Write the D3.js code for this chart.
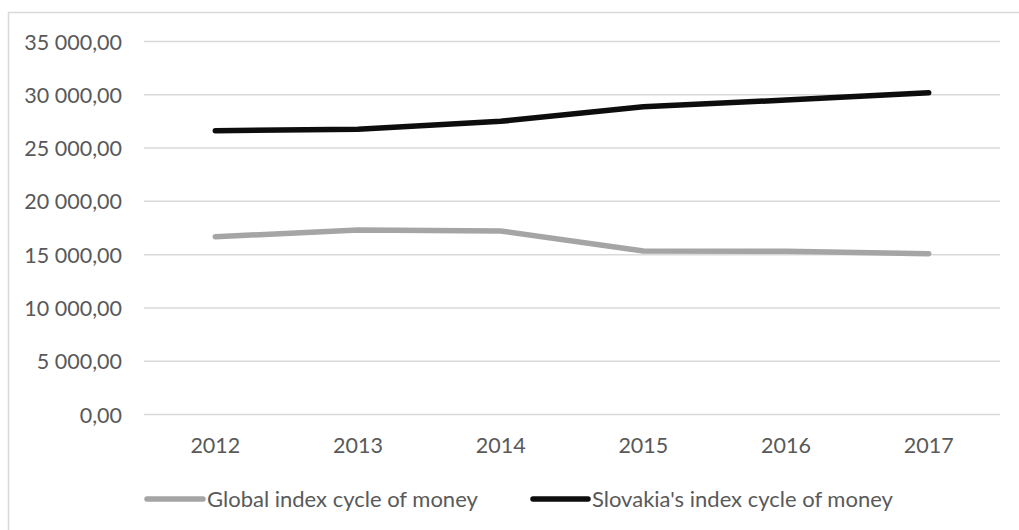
<!DOCTYPE html>
<html><head><meta charset="utf-8">
<script src="https://cdn.jsdelivr.net/npm/d3@7"></script>
<style>body{margin:0;background:#fff}svg{display:block}</style>
</head><body>
<svg id="c" width="1019" height="530"></svg>
<script>
const categories = ["2012","2013","2014","2015","2016","2017"];
const globalIndex = [16680, 17310, 17220, 15340, 15310, 15090];
const slovakiaIndex = [26630, 26760, 27510, 28880, 29510, 30200];
const yTicks = [0, 5000, 10000, 15000, 20000, 25000, 30000, 35000];
const seriesNames = ["Global index cycle of money", "Slovakia's index cycle of money"];
const seriesColors = ["#a5a5a5", "#0d0d0d"];

const FONT = "Lato, 'Open Sans', sans-serif";
const svg = d3.select("#c");
svg.append("rect").attr("x",8.5).attr("y",12.5).attr("width",1030).attr("height",540)
  .attr("fill","none").attr("stroke","#d9d9d9").attr("stroke-width",1.5);

const x = d3.scaleBand().domain(categories).range([144,1000]);
const y = d3.scaleLinear().domain([0,35000]).range([414.5,41.5]);

const fmt = v => d3.format(",.2f")(v).replace(/,/g," ").replace(".",",");

function squeeze(sel, target){
  sel.each(function(){
    const w = this.getComputedTextLength();
    const s = Math.min(1, target / w);
    d3.select(this).attr("transform", `scale(${s},1)`);
  });
}

// gridlines
svg.append("g").selectAll("line").data(yTicks).join("line")
  .attr("x1",144).attr("x2",1000)
  .attr("y1",d=>y(d)).attr("y2",d=>y(d))
  .attr("stroke","#d9d9d9").attr("stroke-width",1.5);

// y axis labels
const yAxis = d3.axisLeft(y).tickValues(yTicks).tickFormat(fmt).tickSize(0).tickPadding(0);
const gy = svg.append("g").attr("transform","translate(122,0)").call(yAxis);
gy.select(".domain").remove();
gy.selectAll("text").attr("font-family",FONT).attr("font-size","21.5px").attr("fill","#595959")
  .attr("dy","0.35em");

// x axis labels
const xAxis = d3.axisBottom(x).tickSize(0).tickPadding(0);
const gx = svg.append("g").attr("transform","translate(0,445.5)").call(xAxis);
gx.select(".domain").remove();
gx.selectAll("text").attr("font-family",FONT)
  .attr("font-size","21.5px").attr("fill","#595959").attr("y",0).attr("dy","0.35em");

const line = d3.line().x((d,i)=>x(categories[i])+x.bandwidth()/2).y(d=>y(d));
[globalIndex, slovakiaIndex].forEach((s,k)=>{
  svg.append("path").attr("d",line(s)).attr("fill","none")
    .attr("stroke",seriesColors[k]).attr("stroke-width",5.5)
    .attr("stroke-linecap","round").attr("stroke-linejoin","round");
});

// legend
const legend = [
  {x1:147,x2:203,tx:207,len:272},
  {x1:533,x2:588,tx:592,len:301}
];
legend.forEach((l,k)=>{
  svg.append("line").attr("x1",l.x1).attr("x2",l.x2).attr("y1",499).attr("y2",499)
    .attr("stroke",seriesColors[k]).attr("stroke-width",5.5).attr("stroke-linecap","round");
  svg.append("g").attr("transform",`translate(${l.tx},499)`)
    .append("text").attr("dy","0.35em")
    .attr("font-family",FONT).attr("font-size","22px")
    .attr("fill","#595959")
    .text(seriesNames[k])
    .call(squeeze, l.len);
});
</script>
</body></html>
